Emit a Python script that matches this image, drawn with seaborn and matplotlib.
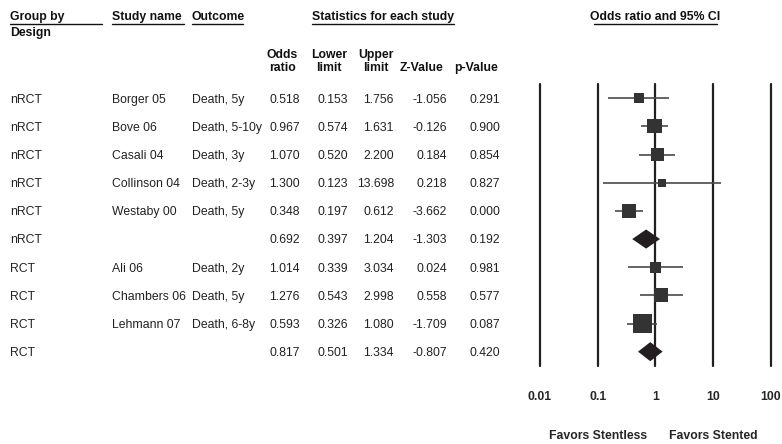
import matplotlib
matplotlib.use("Agg")
import matplotlib.pyplot as plt
import matplotlib.transforms as mtransforms
from matplotlib.lines import Line2D
import seaborn as sns
import pandas as pd
import numpy as np

# ---------------- data ----------------
groups = ["nRCT", "nRCT", "nRCT", "nRCT", "nRCT", "nRCT", "RCT", "RCT", "RCT", "RCT"]
studies = ["Borger 05", "Bove 06", "Casali 04", "Collinson 04", "Westaby 00", "",
           "Ali 06", "Chambers 06", "Lehmann 07", ""]
outcomes = ["Death, 5y", "Death, 5-10y", "Death, 3y", "Death, 2-3y", "Death, 5y", "",
            "Death, 2y", "Death, 5y", "Death, 6-8y", ""]
odds_ratio = [0.518, 0.967, 1.070, 1.300, 0.348, 0.692, 1.014, 1.276, 0.593, 0.817]
lower = [0.153, 0.574, 0.520, 0.123, 0.197, 0.397, 0.339, 0.543, 0.326, 0.501]
upper = [1.756, 1.631, 2.200, 13.698, 0.612, 1.204, 3.034, 2.998, 1.080, 1.334]
z_value = [-1.056, -0.126, 0.184, 0.218, -3.662, -1.303, 0.024, 0.558, -1.709, -0.807]
p_value = [0.291, 0.900, 0.854, 0.827, 0.000, 0.192, 0.981, 0.577, 0.087, 0.420]
is_summary = [False, False, False, False, False, True, False, False, False, True]
weight = [8.5, 16.5, 14.0, 5.5, 16.5, 0, 10.0, 16.5, 30.0, 0]
tick_values = [0.01, 0.1, 1, 10, 100]
tick_labels = ["0.01", "0.1", "1", "10", "100"]

df = pd.DataFrame({"group": groups, "study": studies, "outcome": outcomes,
                   "or": odds_ratio, "lo": lower, "hi": upper, "z": z_value,
                   "p": p_value, "summary": is_summary, "weight": weight})
df["row"] = np.arange(len(df))

# ---------------- figure ----------------
sns.set_style("white")
plt.rcParams["font.family"] = ["Liberation Sans", "DejaVu Sans"]
W, H = 782, 444
fig = plt.figure(figsize=(W / 100, H / 100), dpi=100)

def fx(x):
    return x / W

def fy(y):
    return 1 - y / H

# forest axes: x 540..771 px, y 84..366 px
ax_l, ax_r, ax_t, ax_b = 540, 770.7, 84, 366
ax = fig.add_axes([fx(ax_l), fy(ax_b), (ax_r - ax_l) / W, (ax_b - ax_t) / H])
ax.set_xscale("log")
ax.set_xlim(0.01, 100)
row0, step = 98.3, 28.15
ax.set_ylim((ax_b - row0) / step, -(row0 - ax_t) / step)
for s in ax.spines.values():
    s.set_visible(False)

for tv in tick_values:
    ax.axvline(tv, color="#231f20", lw=1.6, clip_on=False, zorder=1)

studies_df = df[~df["summary"]]
summ_df = df[df["summary"]]

# CI lines
ax.hlines(studies_df["row"], studies_df["lo"], studies_df["hi"], color="#4a4a4a",
          lw=1.2, zorder=2)

# squares
sns.scatterplot(data=studies_df, x="or", y="row", size="weight", sizes=(0, 187),
                size_norm=(0, 30), marker="s", color="#333333", linewidth=0,
                legend=False, ax=ax, zorder=3)

# diamonds
half_h = 0.34
for _, r in summ_df.iterrows():
    ax.fill([r["lo"], r["or"], r["hi"], r["or"]],
            [r["row"], r["row"] - half_h, r["row"], r["row"] + half_h],
            color="#231f20", lw=0, zorder=4)

ax.set_xticks(tick_values)
ax.set_xticklabels(tick_labels, fontweight="bold", fontsize=8.8)
ax.xaxis.set_minor_locator(matplotlib.ticker.NullLocator())
ax.tick_params(axis="x", length=0, pad=18)
ax.set_yticks([])
ax.set_xlabel("")
ax.set_ylabel("")

fs = 8.8
cap_off = 0.36 * fs  # points from cap-centre down to baseline

# favors labels
tr_fav = mtransforms.blended_transform_factory(ax.transData, fig.transFigure)
tr_fav = mtransforms.offset_copy(tr_fav, fig=fig, y=-cap_off, units="points")
ax.text(0.1, fy(435), "Favors Stentless", transform=tr_fav, ha="center",
        va="baseline", fontsize=fs, fontweight="bold")
ax.text(10, fy(435), "Favors Stented", transform=tr_fav, ha="center",
        va="baseline", fontsize=fs, fontweight="bold")

# ---------------- table text ----------------
tc = "#222222"
va = "baseline"
tr = mtransforms.blended_transform_factory(fig.transFigure, ax.transData)
tr = mtransforms.offset_copy(tr, fig=fig, y=-cap_off, units="points")
for _, r in df.iterrows():
    y = r["row"]
    fig.text(fx(10), y, r["group"], transform=tr, ha="left", va=va, fontsize=fs, color=tc)
    fig.text(fx(112), y, r["study"], transform=tr, ha="left", va=va, fontsize=fs, color=tc)
    fig.text(fx(192), y, r["outcome"], transform=tr, ha="left", va=va, fontsize=fs, color=tc)
    fig.text(fx(300), y, f"{r['or']:.3f}", transform=tr, ha="right", va=va, fontsize=fs, color=tc)
    fig.text(fx(348), y, f"{r['lo']:.3f}", transform=tr, ha="right", va=va, fontsize=fs, color=tc)
    fig.text(fx(394), y, f"{r['hi']:.3f}", transform=tr, ha="right", va=va, fontsize=fs, color=tc)
    fig.text(fx(447), y, f"{r['z']:.3f}", transform=tr, ha="right", va=va, fontsize=fs, color=tc)
    fig.text(fx(500), y, f"{r['p']:.3f}", transform=tr, ha="right", va=va, fontsize=fs, color=tc)

# headers
tr_h = mtransforms.offset_copy(fig.transFigure, fig=fig, y=-cap_off, units="points")

def htext(x, y, s, ha="left"):
    fig.text(fx(x), fy(y), s, transform=tr_h, ha=ha, va=va, fontsize=fs,
             fontweight="bold", color="#111111")

def uline(x0, x1, y):
    fig.add_artist(Line2D([fx(x0), fx(x1)], [fy(y), fy(y)], color="#111111", lw=1.0))

htext(10, 15.5, "Group by")
htext(10, 31.5, "Design")
uline(10, 102, 24.5)
htext(112, 15.5, "Study name")
uline(112, 184, 24.5)
htext(192, 15.5, "Outcome")
uline(192, 243, 24.5)
htext(383, 15.5, "Statistics for each study", ha="center")
uline(312, 454, 24.5)
htext(655.5, 15.5, "Odds ratio and 95% CI", ha="center")
uline(594, 717, 24.5)

col_centers = [282, 329, 376, 421, 476]
top_row = ["Odds", "Lower", "Upper", "", ""]
bot_row = ["ratio", "limit", "limit", "Z-Value", "p-Value"]
for cx, t, b in zip(col_centers, top_row, bot_row):
    if t:
        htext(cx, 54, t, ha="center")
    htext(cx, 67, b, ha="center")

fig.savefig("out.png", dpi=100)
